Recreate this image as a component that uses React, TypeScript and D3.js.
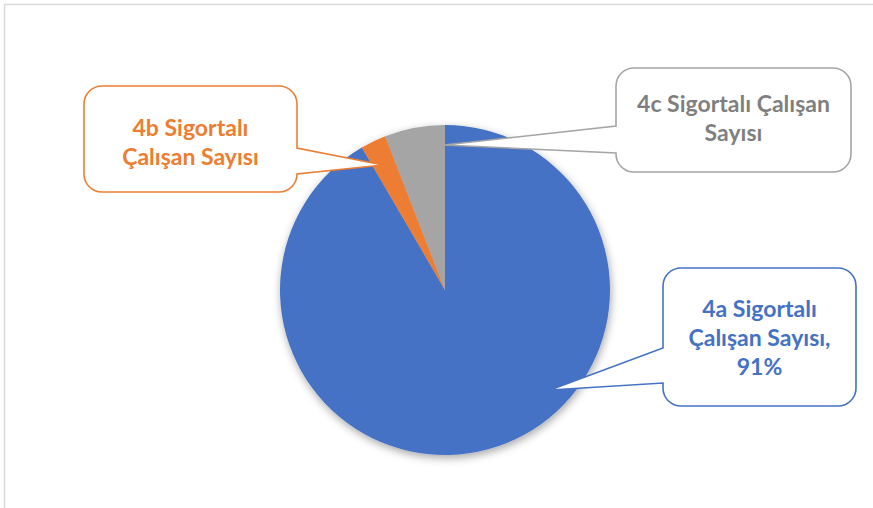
import React from "react";
import * as d3 from "d3";

const categories = ["4a Sigortalı Çalışan Sayısı", "4b Sigortalı Çalışan Sayısı", "4c Sigortalı Çalışan Sayısı"];
const values = [91.6, 2.5, 5.9];
const colors = ["#4472C4", "#ED7D31", "#A5A5A5"];
const textColors = ["#4472C4", "#ED7D31", "#7F7F7F"];
const labelLines = [
  ["4a Sigortalı", "Çalışan Sayısı,", "91%"],
  ["4b Sigortalı", "Çalışan Sayısı"],
  ["4c Sigortalı Çalışan", "Sayısı"],
];

type Callout = {
  x: number; y: number; w: number; h: number;
  side: "left" | "right"; y1: number; y2: number; tx: number; ty: number; textY: number;
};

const callouts: Callout[] = [
  { x: 663, y: 268, w: 193, h: 138, side: "left", y1: 348, y2: 383, tx: 550, ty: 390, textY: 308 },
  { x: 84, y: 86, w: 213, h: 106, side: "right", y1: 148, y2: 174, tx: 383, ty: 165, textY: 127 },
  { x: 616, y: 68, w: 235, h: 104, side: "left", y1: 126, y2: 153, tx: 444, ty: 145, textY: 103 },
];

function calloutPath(c: Callout, r = 18) {
  const { x, y, w, h } = c;
  const a = (ex: number, ey: number) => `A${r},${r} 0 0 1 ${ex},${ey}`;
  if (c.side === "right") {
    return `M${x + r},${y} H${x + w - r} ${a(x + w, y + r)} V${c.y1} L${c.tx},${c.ty} L${x + w},${c.y2} V${y + h - r} ${a(x + w - r, y + h)} H${x + r} ${a(x, y + h - r)} V${y + r} ${a(x + r, y)} Z`;
  }
  return `M${x + r},${y} H${x + w - r} ${a(x + w, y + r)} V${y + h - r} ${a(x + w - r, y + h)} H${x + r} ${a(x, y + h - r)} V${c.y2} L${c.tx},${c.ty} L${x},${c.y1} V${y + r} ${a(x + r, y)} Z`;
}

export default function App() {
  const width = 873;
  const height = 508;
  const cx = 445;
  const cy = 290;
  const radius = 165;

  const pie = d3.pie<number>().sort(null).value((d) => d)(values);
  const arc = d3.arc<d3.PieArcDatum<number>>().innerRadius(0).outerRadius(radius);

  return (
    <svg
      width={width}
      height={height}
      style={{ position: "fixed", left: 0, top: 0, background: "#fff" }}
      fontFamily="Lato, 'Open Sans', sans-serif"
    >
      <defs>
        <filter id="shadow" x="-20%" y="-20%" width="140%" height="140%">
          <feDropShadow dx="1" dy="3" stdDeviation="4" floodColor="#000" floodOpacity="0.35" />
        </filter>
      </defs>
      <rect x={4.5} y={4.5} width={width + 20} height={height + 20} fill="#fff" stroke="#D9D9D9" strokeWidth={1.5} />
      <g transform={`translate(${cx},${cy})`} filter="url(#shadow)">
        {pie.map((p, i) => (
          <path key={categories[i]} d={arc(p) || ""} fill={colors[i]} />
        ))}
      </g>
      {callouts.map((c, i) => (
        <g key={categories[i]}>
          <path d={calloutPath(c)} fill="#fff" stroke={colors[i]} strokeWidth={1.6} />
          {labelLines[i].map((line, j) => (
            <text
              key={j}
              x={c.x + c.w / 2}
              y={c.textY + j * 29}
              textAnchor="middle"
              dominantBaseline="central"
              fontSize={23}
              fontWeight="bold"
              fill={textColors[i]}
            >
              {line}
            </text>
          ))}
        </g>
      ))}
    </svg>
  );
}
